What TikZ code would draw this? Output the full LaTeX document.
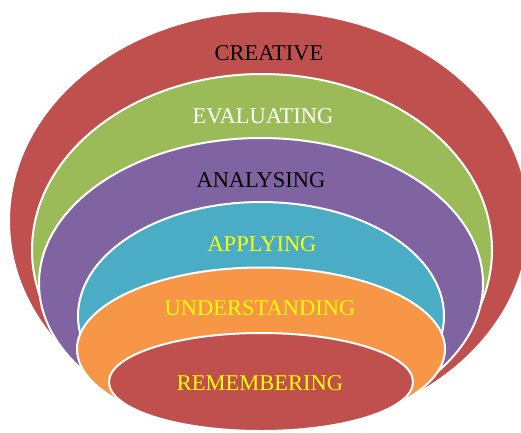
\documentclass[tikz,border=0pt]{standalone}
\usepackage{fontspec}
\setmainfont{Liberation Serif}
\usepackage{xcolor}
\usetikzlibrary{shapes.geometric}

\definecolor{tierred}{HTML}{C0504D}
\definecolor{tiergreen}{HTML}{9BBB59}
\definecolor{tierpurple}{HTML}{8064A2}
\definecolor{tierblue}{HTML}{4BACC6}
\definecolor{tierorange}{HTML}{F79646}
\definecolor{tieryellow}{HTML}{FFFF00}

\begin{document}
\begin{tikzpicture}[
    x=1pt, y=-1pt,
    tier/.style = {
        ellipse,
        draw=white,
        line width=2pt,
        inner sep=0pt
    },
    tiertext/.style = {
        anchor=base,
        inner sep=0pt,
        font=\fontsize{22.5}{25}\selectfont
    }
]

% Page frame
\useasboundingbox (0,0) rectangle (521,432);
\clip (0,0) rectangle (521,432);

% Nested levels, outermost first
\node[tier, fill=tierred,    minimum width=520pt, minimum height=420pt] (creative)      at (269,221) {};
\node[tier, fill=tiergreen,  minimum width=460pt, minimum height=352pt] (evaluating)    at (262,250) {};
\node[tier, fill=tierpurple, minimum width=444pt, minimum height=291pt] (analysing)     at (261,283.5) {};
\node[tier, fill=tierblue,   minimum width=366pt, minimum height=228pt] (applying)      at (261,316) {};
\node[tier, fill=tierorange, minimum width=368pt, minimum height=163pt] (understanding) at (261,349) {};
\node[tier, fill=tierred,    minimum width=304pt, minimum height=98pt]  (remembering)   at (261,382) {};

% Level names
\node[tiertext, text=black]      (creativetext)      at (269,60)  {CREATIVE};
\node[tiertext, text=white]      (evaluatingtext)    at (263,123) {EVALUATING};
\node[tiertext, text=black]      (analysingtext)     at (261,187) {ANALYSING};
\node[tiertext, text=tieryellow] (applyingtext)      at (262,251) {APPLYING};
\node[tiertext, text=tieryellow] (understandingtext) at (260,315) {UNDERSTANDING};
\node[tiertext, text=tieryellow] (rememberingtext)   at (260,390) {REMEMBERING};

\end{tikzpicture}
\end{document}
